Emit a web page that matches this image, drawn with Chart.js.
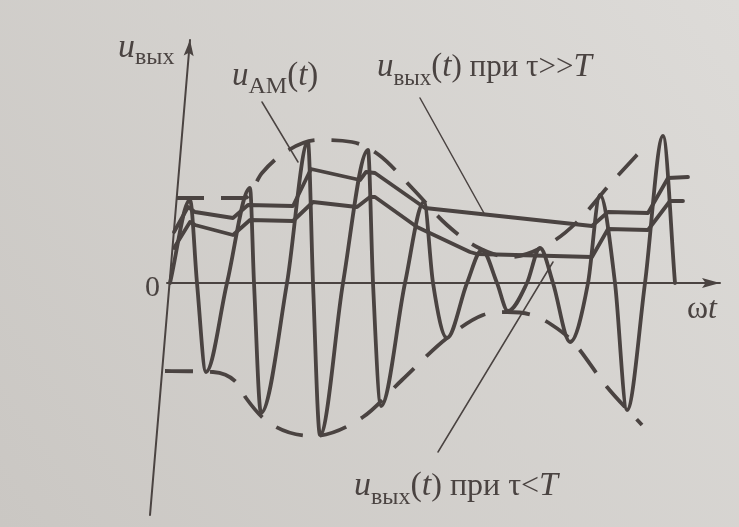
<!DOCTYPE html>
<html>
<head>
<meta charset="utf-8">
<script src="https://cdn.jsdelivr.net/npm/chart.js@4.4.0/dist/chart.umd.min.js"></script>
<style>
  html, body { margin: 0; padding: 0; background: #d6d4d1; }
  canvas { display: block; }
</style>
</head>
<body>
<canvas id="amChart" width="739" height="527"></canvas>
<script>
const INK = '#4a4341';

// carrier u_AM(t): peaks, zero crossings, troughs
const amX = [0, 20, 27, 36, 57, 80, 84, 91, 117, 138, 143, 150, 173, 198, 203, 211, 235, 254, 263, 277, 297, 312, 327, 338, 357, 370, 383, 400, 418, 430, 445, 457, 475, 493, 505];
const amY = [0, 83, 0, -89, 0, 95, 0, -130, 0, 141, 0, -152, 0, 133, 0, -123, 0, 81, 0, -55, 0, 33, 0, -28, 0, 35, 0, -59, 0, 88, 0, -127, 0, 147, 0];

// envelope (dashed)
const envTopX = [6, 75, 92, 117, 148, 182, 209, 243, 277, 307, 340, 382, 407, 442, 478];
const envTopY = [85, 85, 110, 132, 143, 141, 128, 94, 58, 36, 26, 41, 61, 101, 140];
const envBotX = [-5, 43, 67, 76, 98, 143, 193, 232, 277, 313, 337, 362, 382, 403, 437, 472];
const envBotY = [-88, -89, -100, -115, -139, -153, -134, -97, -55, -32, -29, -32, -42, -59, -104, -142];

// u_вых(t), tau >> T
const slowX = [4, 18, 25, 63, 78, 123, 141, 190, 196, 205, 255, 422, 438, 478, 498, 518];
const slowY = [51, 76, 71, 65, 78, 77, 114, 103, 111, 110, 75, 57, 71, 70, 105, 106];

// u_вых(t), tau < T
const fastX = [4, 20, 25, 63, 80, 123, 143, 187, 200, 205, 247, 300, 307, 422, 438, 478, 500, 513];
const fastY = [35, 61, 58, 48, 63, 62, 81, 76, 86, 86, 56, 31, 29, 26, 54, 53, 82, 82];

// leader lines from labels
const amLeadX = [92, 128], amLeadY = [181, 121];
const slowLeadX = [250, 315], slowLeadY = [185, 68];
const fastLeadX = [268, 383], fastLeadY = [-169, 21];

// axes
const xAxisX = [-3, 550], xAxisY = [0, 0];
const yAxisX = [-20, 20], yAxisY = [-232, 243];

function pts(xs, ys) {
    return xs.map((x, i) => ({ x: x, y: ys[i] }));
}

function line(xs, ys, width, extra) {
    return Object.assign({
        data: pts(xs, ys),
        showLine: true,
        borderColor: INK,
        borderWidth: width,
        pointRadius: 0,
        fill: false,
        tension: 0,
        borderCapStyle: 'round',
        borderJoinStyle: 'round'
    }, extra || {});
}

const S = '"Liberation Serif"';
function f(size, italic) {
    return (italic ? 'italic ' : '') + size + 'px ' + S;
}

const labels = [
    { x: -52, y: 226, runs: [
        { t: 'u', f: f(34, true) },
        { t: 'вых', f: f(24), dy: 7 }] },
    { x: 62, y: 198, runs: [
        { t: 'u', f: f(33, true) },
        { t: 'AM', f: f(24), dy: 8 },
        { t: '(', f: f(33) },
        { t: 't', f: f(33, true) },
        { t: ')', f: f(33) }] },
    { x: 207, y: 207, runs: [
        { t: 'u', f: f(33, true) },
        { t: 'вых', f: f(23), dy: 9 },
        { t: '(', f: f(33) },
        { t: 't', f: f(33, true) },
        { t: ') при τ>>', f: f(31) },
        { t: 'T', f: f(33, true) }] },
    { x: 184, y: -212, runs: [
        { t: 'u', f: f(34, true) },
        { t: 'вых', f: f(24), dy: 9 },
        { t: '(', f: f(34) },
        { t: 't', f: f(34, true) },
        { t: ') при τ<', f: f(32) },
        { t: 'T', f: f(34, true) }] },
    { x: -25, y: -13, runs: [{ t: '0', f: f(30) }] },
    { x: 517, y: -35, runs: [
        { t: 'ω', f: f(32) },
        { t: 't', f: f(32, true) }] }
];

const paperPlugin = {
    id: 'paper',
    beforeDraw(chart) {
        const ctx = chart.ctx;
        const g = ctx.createLinearGradient(chart.width, 0, 0, chart.height);
        g.addColorStop(0, '#dddbd8');
        g.addColorStop(1, '#cac7c3');
        ctx.save();
        ctx.fillStyle = g;
        ctx.fillRect(0, 0, chart.width, chart.height);
        ctx.restore();
    }
};

// arrow heads on the two axes
const arrowPlugin = {
    id: 'arrows',
    afterDatasetsDraw(chart) {
        const ctx = chart.ctx;
        chart.data.datasets.forEach((ds, i) => {
            if (!ds.arrow) return;
            const el = chart.getDatasetMeta(i).data;
            const a = el[el.length - 2], b = el[el.length - 1];
            const ang = Math.atan2(b.y - a.y, b.x - a.x);
            const len = ds.arrow.len, half = ds.arrow.half;
            ctx.save();
            ctx.translate(b.x, b.y);
            ctx.rotate(ang);
            ctx.fillStyle = INK;
            ctx.beginPath();
            ctx.moveTo(0, 0);
            ctx.lineTo(-len, -half);
            ctx.lineTo(-len * 0.8, 0);
            ctx.lineTo(-len, half);
            ctx.closePath();
            ctx.fill();
            ctx.restore();
        });
    }
};

const textPlugin = {
    id: 'texts',
    afterDraw(chart) {
        const ctx = chart.ctx;
        const sx = chart.scales.x, sy = chart.scales.y;
        ctx.save();
        ctx.fillStyle = INK;
        ctx.textBaseline = 'alphabetic';
        labels.forEach(l => {
            let x = sx.getPixelForValue(l.x);
            const y = sy.getPixelForValue(l.y);
            l.runs.forEach(r => {
                ctx.font = r.f;
                ctx.fillText(r.t, x, y + (r.dy || 0));
                x += ctx.measureText(r.t).width;
            });
        });
        ctx.restore();
    }
};

new Chart(document.getElementById('amChart'), {
    type: 'scatter',
    data: {
        datasets: [
            line(xAxisX, xAxisY, 2, { arrow: { len: 18, half: 5 } }),
            line(yAxisX, yAxisY, 2, { arrow: { len: 16, half: 5 } }),
            line(envTopX, envTopY, 3.8, { cubicInterpolationMode: 'monotone', borderDash: [28, 17], borderCapStyle: 'butt' }),
            line(envBotX, envBotY, 3.8, { cubicInterpolationMode: 'monotone', borderDash: [28, 17], borderCapStyle: 'butt' }),
            line(slowX, slowY, 3.8),
            line(fastX, fastY, 3.8),
            line(amX, amY, 3.8, { cubicInterpolationMode: 'monotone' }),
            line(amLeadX, amLeadY, 1.5),
            line(slowLeadX, slowLeadY, 1.5),
            line(fastLeadX, fastLeadY, 1.5)
        ]
    },
    options: {
        responsive: false,
        animation: false,
        devicePixelRatio: 1,
        layout: { padding: 0 },
        plugins: {
            legend: { display: false },
            tooltip: { enabled: false }
        },
        scales: {
            x: { type: 'linear', min: -170, max: 569, display: false },
            y: { type: 'linear', min: -244, max: 283, display: false }
        }
    },
    plugins: [paperPlugin, arrowPlugin, textPlugin]
});
</script>
</body>
</html>
